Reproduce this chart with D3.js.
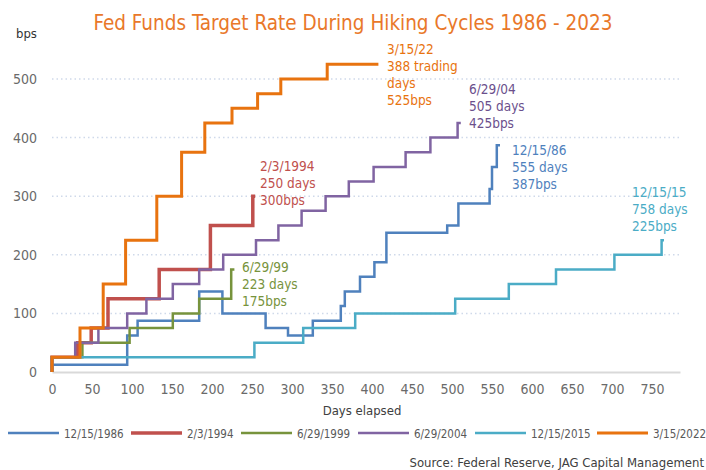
<!DOCTYPE html>
<html>
<head>
<meta charset="utf-8">
<script src="https://cdn.jsdelivr.net/npm/d3@7"></script>
<style>
  body { margin: 0; background: #fff; }
  svg text { font-family: "Liberation Sans Narrow", "DejaVu Sans Condensed", "Open Sans", sans-serif; }
</style>
</head>
<body>
<svg id="chart" width="706" height="470"></svg>
<script>
// step points: days elapsed / bps above start of cycle
const days86 = [0, 0, 94, 107, 184, 213, 267, 295, 326, 361, 366, 385, 403, 418, 494, 508, 547, 550, 556, 560];
const bps86 = [0, 12.5, 62.5, 87.5, 137.5, 100, 75, 62.5, 87.5, 112.5, 137.5, 162.5, 187.5, 237.5, 250, 287.5, 312.5, 350, 387, 387];

const days94 = [0, 0, 32, 49, 70, 134, 198, 251, 254];
const bps94 = [0, 25, 50, 75, 125, 175, 250, 300, 300];

const days99 = [0, 0, 38, 97, 151, 184, 224, 228];
const bps99 = [0, 25, 50, 75, 100, 125, 175, 175];

const days04 = [0, 0, 29, 58, 94, 118, 151, 184, 214, 255, 283, 312, 342, 371, 402, 442, 473, 507, 511];
const bps04 = [0, 25, 50, 75, 100, 125, 150, 175, 200, 225, 250, 275, 300, 325, 350, 375, 400, 425, 425];

const days15 = [0, 0, 253, 314, 379, 504, 571, 630, 703, 762, 765];
const bps15 = [0, 25, 50, 75, 100, 125, 150, 175, 200, 225, 225];

const days22 = [0, 0, 35, 64, 92, 131, 162, 191, 225, 257, 286, 344, 408];
const bps22 = [0, 25, 75, 150, 225, 300, 375, 425, 450, 475, 500, 525, 525];

const legendNames = ["12/15/1986", "2/3/1994", "6/29/1999", "6/29/2004", "12/15/2015", "3/15/2022"];
const endLabels = [
  ["12/15/86", "555 days", "387bps"],
  ["2/3/1994", "250 days", "300bps"],
  ["6/29/99", "223 days", "175bps"],
  ["6/29/04", "505 days", "425bps"],
  ["12/15/15", "758 days", "225bps"],
  ["3/15/22", "388 trading", "days", "525bps"]
];
const xTicks = d3.range(0, 751, 50);
const yTicks = [0, 100, 200, 300, 400, 500];

const colors = ["#4f81bd", "#c0504d", "#77933c", "#8064a2", "#4bacc6", "#e8730f"];
const labelColors = ["#4f81bd", "#c0504d", "#77933c", "#6b4f8c", "#4bacc6", "#e8730f"];
const widths = [2.5, 3.5, 2.5, 2.5, 2.5, 3];
// where each end label sits (left x, first baseline)
const labelPos = [[512, 155], [260, 171], [242, 272], [469, 94], [632, 197], [387, 54]];

const allDays = [days86, days94, days99, days04, days15, days22];
const allBps = [bps86, bps94, bps99, bps04, bps15, bps22];
const series = legendNames.map((name, i) => ({
  name: name,
  points: allDays[i].map((d, j) => ({ day: d, bps: allBps[i][j] }))
}));

const svg = d3.select("#chart");

const x = d3.scaleLinear().domain([0, 785]).range([52, 680]);
const y = d3.scaleLinear().domain([0, 500]).range([372, 79]);

// title
svg.append("text")
  .attr("x", 353).attr("y", 30)
  .attr("text-anchor", "middle")
  .attr("fill", "#e9782a")
  .style("font-size", "20.5px")
  .text("Fed Funds Target Rate During Hiking Cycles 1986 - 2023");

svg.append("text")
  .attr("x", 16).attr("y", 38)
  .attr("fill", "#333")
  .style("font-size", "13px")
  .text("bps");

// gridlines
svg.append("g")
  .selectAll("line")
  .data(yTicks.filter((d) => d > 0))
  .join("line")
  .attr("x1", x(0)).attr("x2", x(785))
  .attr("y1", (d) => y(d)).attr("y2", (d) => y(d))
  .attr("stroke", "#cfd9ea")
  .attr("stroke-width", 1.5)
  .attr("stroke-dasharray", "1.5,3");

// y axis labels
svg.append("g")
  .attr("transform", "translate(37,0)")
  .call(d3.axisLeft(y).tickValues(yTicks).tickSize(0).tickPadding(0))
  .call((g) => g.select(".domain").remove())
  .selectAll("text")
  .attr("fill", "#6a6a6a")
  .style("font-size", "14px")
  .style("font-family", null);

// x axis
const xAxis = svg.append("g")
  .attr("transform", "translate(0," + y(0) + ")")
  .call(d3.axisBottom(x).tickValues(xTicks).tickSize(0).tickPadding(12));
xAxis.select(".domain").attr("stroke", "#d9d9d9").attr("stroke-width", 2);
xAxis.selectAll("text")
  .attr("fill", "#6a6a6a")
  .style("font-size", "14px")
  .style("font-family", null);

svg.append("text")
  .attr("x", 362).attr("y", 415)
  .attr("text-anchor", "middle")
  .attr("fill", "#404040")
  .style("font-size", "13px")
  .text("Days elapsed");

// lines
const line = d3.line()
  .x((d) => x(d.day))
  .y((d) => y(d.bps))
  .curve(d3.curveStepAfter);

svg.append("g")
  .selectAll("path")
  .data(series)
  .join("path")
  .attr("d", (d) => line(d.points))
  .attr("fill", "none")
  .attr("stroke", (d, i) => colors[i])
  .attr("stroke-width", (d, i) => widths[i]);

// end labels
endLabels.forEach(function (lines, i) {
  svg.append("text")
    .attr("fill", labelColors[i])
    .style("font-size", "13.5px")
    .selectAll("tspan")
    .data(lines)
    .join("tspan")
    .attr("x", labelPos[i][0])
    .attr("y", (d, j) => labelPos[i][1] + j * 17)
    .text((d) => d);
});

// legend
const legendX = [8, 131, 241, 358, 475, 597];
const legend = svg.append("g")
  .selectAll("g")
  .data(legendNames)
  .join("g")
  .attr("transform", (d, i) => "translate(" + legendX[i] + ",433)");
legend.append("line")
  .attr("x1", 0).attr("x2", 51)
  .attr("stroke", (d, i) => colors[i])
  .attr("stroke-width", (d, i) => widths[i]);
legend.append("text")
  .attr("x", 56).attr("y", 4.5)
  .attr("fill", "#595959")
  .style("font-size", "11.5px")
  .text((d) => d);

svg.append("text")
  .attr("x", 704).attr("y", 467)
  .attr("text-anchor", "end")
  .attr("fill", "#404040")
  .style("font-size", "13px")
  .text("Source: Federal Reserve, JAG Capital Management");
</script>
</body>
</html>
